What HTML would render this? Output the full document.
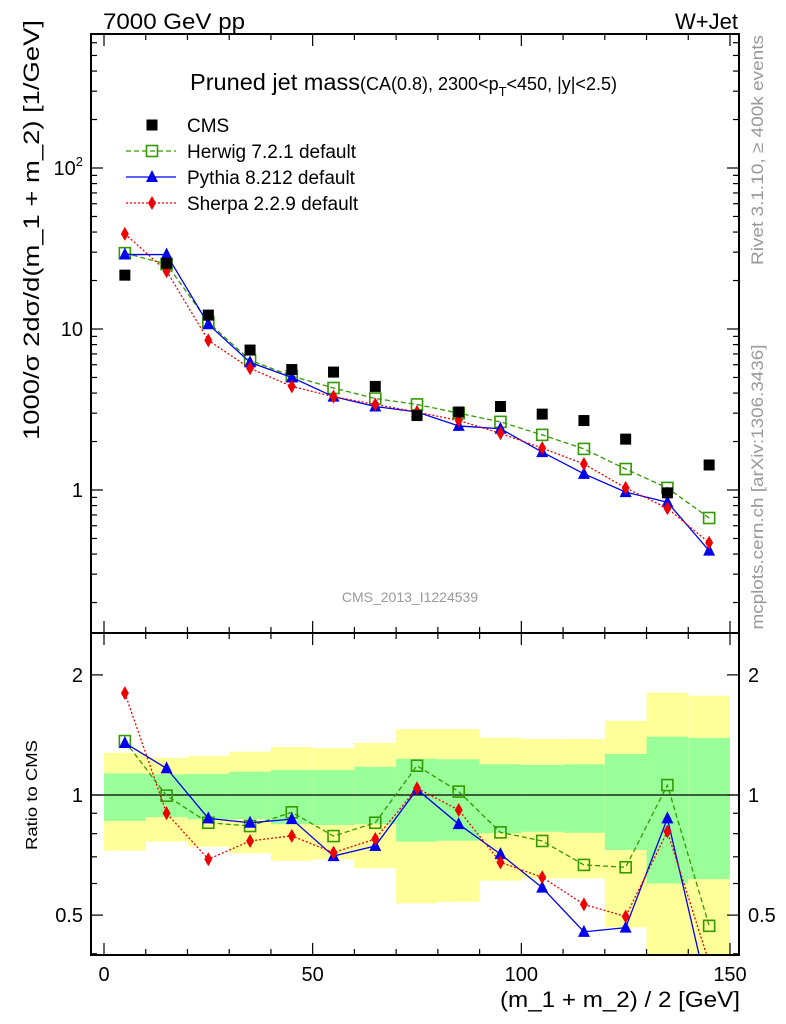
<!DOCTYPE html>
<html><head><meta charset="utf-8"><style>
html,body{margin:0;padding:0;background:#fff;}
svg{display:block;font-family:"Liberation Sans",sans-serif;}
</style></head><body>
<svg id="c" width="786" height="1024" viewBox="0 0 786 1024" xmlns="http://www.w3.org/2000/svg">
<text x="103" y="29" font-size="22" textLength="142" lengthAdjust="spacingAndGlyphs">7000 GeV pp</text>
<text x="738" y="29" font-size="22" text-anchor="end">W+Jet</text>
<text x="190" y="90" font-size="23"><tspan textLength="170" lengthAdjust="spacingAndGlyphs">Pruned jet mass</tspan><tspan font-size="18">(CA(0.8), 2300&lt;p</tspan><tspan font-size="13" dy="6">T</tspan><tspan font-size="18" dy="-6">&lt;450, |y|&lt;2.5)</tspan></text>
<text x="410" y="602" font-size="14" fill="#999" text-anchor="middle">CMS_2013_I1224539</text>
<text transform="translate(763,150) rotate(-90)" font-size="17" fill="#999" text-anchor="middle" textLength="230" lengthAdjust="spacingAndGlyphs">Rivet 3.1.10, ≥ 400k events</text>
<text transform="translate(763,487) rotate(-90)" font-size="17" fill="#999" text-anchor="middle" textLength="285" lengthAdjust="spacingAndGlyphs">mcplots.cern.ch [arXiv:1306.3436]</text>
<text transform="translate(39,230) rotate(-90)" font-size="22" text-anchor="middle" textLength="420" lengthAdjust="spacingAndGlyphs">1000/σ 2dσ/d(m_1 + m_2) [1/GeV]</text>
<text transform="translate(37,795) rotate(-90)" font-size="16" text-anchor="middle" textLength="110" lengthAdjust="spacingAndGlyphs">Ratio to CMS</text>
<text x="740" y="1007" font-size="22" text-anchor="end" textLength="240" lengthAdjust="spacingAndGlyphs">(m_1 + m_2) / 2 [GeV]</text>
<g id="bands"></g><g id="axes"></g><g id="series"></g><g id="legend"></g>
</svg>
<script>
const xCenters=[5,15,25,35,45,55,65,75,85,95,105,115,125,135,145];
const cmsVals=[21.6,25.6,12.2,7.4,5.6,5.4,4.4,2.9,3.05,3.3,2.96,2.7,2.07,0.96,1.43];
const herwigVals=[29.6,25.3,11,6.4,5.1,4.3,3.7,3.4,3.0,2.65,2.2,1.8,1.35,1.03,0.67];
const pythiaVals=[29,29,10.7,6.2,5.0,3.8,3.3,3.05,2.5,2.4,1.72,1.26,0.97,0.84,0.42];
const sherpaVals=[39,22.9,8.5,5.7,4.4,3.8,3.4,3.05,2.7,2.25,1.82,1.45,1.03,0.77,0.47];
const herwigRatio=[1.365,0.996,0.852,0.836,0.905,0.789,0.852,1.184,1.02,0.806,0.767,0.668,0.659,1.059,0.47];
const pythiaRatio=[1.35,1.166,0.874,0.852,0.87,0.703,0.745,1.033,0.845,0.711,0.586,0.454,0.465,0.874,0.31];
const sherpaRatio=[1.80,0.90,0.69,0.767,0.79,0.717,0.776,1.04,0.917,0.678,0.622,0.532,0.496,0.81,0.38];
const yellowHi=[1.276,1.24,1.254,1.284,1.319,1.311,1.35,1.463,1.463,1.392,1.381,1.381,1.535,1.805,1.774];
const greenHi=[1.133,1.127,1.129,1.144,1.155,1.155,1.177,1.233,1.229,1.194,1.189,1.194,1.267,1.4,1.39];
const greenLo=[0.861,0.88,0.869,0.869,0.845,0.841,0.845,0.764,0.768,0.802,0.809,0.804,0.728,0.60,0.615];
const yellowLo=[0.725,0.764,0.742,0.714,0.684,0.690,0.655,0.535,0.540,0.610,0.618,0.618,0.466,0.35,0.35];
const xTicks=[0,50,100,150];
const mainTicks=[1,10,100];
const mainTickLabels=["1","10","10²"];
const ratioTicks=[0.5,1,2];
const ratioTickLabels=["0.5","1","2"];

const NS="http://www.w3.org/2000/svg";
const L=91,R=739,T=34,MB=633,RB=955;
const X=v=>104+(v)*626/150;
const Y=v=>329-(Math.log10(v)-1)*161;
const YR=v=>795-Math.log10(v)*399;
const clampR=y=>Math.min(Math.max(y,MB),RB);
function mk(parent,tag,attrs){const e=document.createElementNS(NS,tag);for(const k in attrs)e.setAttribute(k,attrs[k]);document.getElementById(parent).appendChild(e);return e;}

xCenters.forEach((c,i)=>{
  let y1=clampR(YR(yellowHi[i])),y2=clampR(YR(yellowLo[i]));
  let e=mk('bands','rect',{x:X(c-5),y:y1,width:X(c+5)-X(c-5),height:y2-y1,fill:'#ffff99'});
  
  
  y1=YR(greenHi[i]);y2=YR(greenLo[i]);
  e=mk('bands','rect',{x:X(c-5),y:y1,width:X(c+5)-X(c-5),height:y2-y1,fill:'#99ff99'});
  
  
});
let ul=mk('axes','line',{x1:L,x2:R,y1:YR(1),y2:YR(1),stroke:'#000','stroke-width':1.3});


[[T,MB],[MB,RB]].forEach(([a,b],k)=>{
  const f=mk('axes','rect',{x:L,y:a,width:R-L,height:b-a,fill:'none',stroke:'#000','stroke-width':2});
  
  
});
for(let v=0;v<=150;v+=10){
  const major=v%50===0,len=major?12:6;
  [[T,1],[MB,-1],[MB,1],[RB,-1]].forEach(([y,d])=>{
    mk('axes','line',{x1:X(v),x2:X(v),y1:y,y2:y+d*len,stroke:'#000','stroke-width':1.2});
  });
}
xTicks.forEach(v=>{const t=mk('axes','text',{x:X(v),y:981,'font-size':20,'text-anchor':'middle'});t.textContent=v;
  
  });
for(let d=-1;d<3;d++)for(let m=1;m<10;m++){
  const v=m*Math.pow(10,d),y=Y(v);if(y<T||y>MB)continue;
  const len=m===1?12:6;
  mk('axes','line',{x1:L,x2:L+len,y1:y,y2:y,stroke:'#000','stroke-width':1.2});
  mk('axes','line',{x1:R,x2:R-len,y1:y,y2:y,stroke:'#000','stroke-width':1.2});
}
mainTicks.forEach((v,i)=>{const t=mk('axes','text',{x:83,y:Y(v)+7,'font-size':20,'text-anchor':'end'});
  if(i===2){t.innerHTML='10<tspan font-size="13" dy="-9">2</tspan>';}else t.textContent=mainTickLabels[i];
  
  });
[0.4,0.5,0.6,0.7,0.8,0.9,1,2].forEach(v=>{
  const y=YR(v),len=(v===1||v===2||v===0.5)?12:6;
  mk('axes','line',{x1:L,x2:L+len,y1:y,y2:y,stroke:'#000','stroke-width':1.2});
  mk('axes','line',{x1:R,x2:R-len,y1:y,y2:y,stroke:'#000','stroke-width':1.2});
});
ratioTicks.forEach((v,i)=>{
  let t=mk('axes','text',{x:83,y:YR(v)+7,'font-size':20,'text-anchor':'end'});t.textContent=ratioTickLabels[i];
  
  
  t=mk('axes','text',{x:748,y:YR(v)+7,'font-size':20});t.textContent=ratioTickLabels[i];
  
  
});

function marker(g,type,x,y,col){
  let e;
  if(type==='sq') e=mk(g,'rect',{x:x-5.5,y:y-5.5,width:11,height:11,fill:'#fff','fill-opacity':0,stroke:col,'stroke-width':1.6});
  else if(type==='tri') e=mk(g,'polygon',{points:`${x},${y-7} ${x-6},${y+5} ${x+6},${y+5}`,fill:col});
  else if(type==='dia') e=mk(g,'polygon',{points:`${x},${y-7} ${x+4},${y} ${x},${y+7} ${x-4},${y}`,fill:col});
  else e=mk(g,'rect',{x:x-5.5,y:y-5.5,width:11,height:11,fill:col});
  return e;
}
function series(vals,fy,col,dash,type,name,clip){
  const pts=xCenters.map((c,i)=>[X(c),fy(vals[i])]);
  const p=mk('series','polyline',{points:pts.map(q=>q.join(',')).join(' '),fill:'none',stroke:col,'stroke-width':1.3,'stroke-dasharray':dash,'clip-path':clip?'url(#rc)':''});
  
  
  pts.forEach(q=>{if(q[1]>RB||q[1]<T)return;const m=marker('series',type,q[0],q[1],col);
    
    });
}
const defs=mk('axes','defs',{});const cp=document.createElementNS(NS,'clipPath');cp.setAttribute('id','rc');
const cr=document.createElementNS(NS,'rect');cr.setAttribute('x',L);cr.setAttribute('y',MB);cr.setAttribute('width',R-L);cr.setAttribute('height',RB-MB);cp.appendChild(cr);defs.appendChild(cp);

series(herwigVals,Y,'#339900','5,3','sq','herwig');
series(pythiaVals,Y,'#0000ee','','tri','pythia');
series(sherpaVals,Y,'#ee0000','2,2','dia','sherpa');
xCenters.forEach((c,i)=>{const m=marker('series','cms',X(c),Y(cmsVals[i]),'#000');
  
  });
series(herwigRatio,YR,'#339900','5,3','sq','herwig-ratio',true);
series(pythiaRatio,YR,'#0000ee','','tri','pythia-ratio',true);
series(sherpaRatio,YR,'#ee0000','2,2','dia','sherpa-ratio',true);

const leg=[['CMS','#000','','cms'],['Herwig 7.2.1 default','#339900','5,3','sq'],['Pythia 8.212 default','#0000ee','','tri'],['Sherpa 2.2.9 default','#ee0000','2,2','dia']];
leg.forEach((e,i)=>{
  const y=125+i*26;
  if(i>0){mk('legend','line',{x1:126,x2:176,y1:y,y2:y,stroke:e[1],'stroke-width':1.3,'stroke-dasharray':e[2]});}
  marker('legend',e[3],152,y,e[1]);
  const t=mk('legend','text',{x:187,y:y+7,'font-size':19});t.textContent=e[0];
  
  
});
</script>
</body></html>
